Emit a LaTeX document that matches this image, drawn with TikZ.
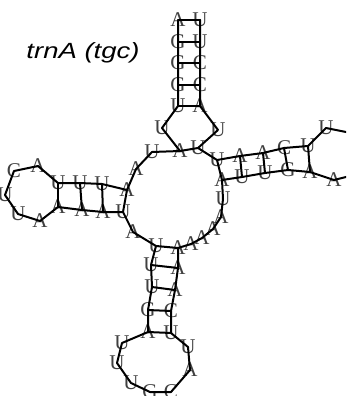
\documentclass[tikz,border=0pt]{standalone}
\usepackage{fontspec}
\setmainfont{Liberation Serif}
\newfontfamily\titlefont{Liberation Sans}
\begin{document}
\begin{tikzpicture}[x=1pt,y=-1pt,
  nt/.style={inner sep=0pt, font=\fontsize{21}{21}\selectfont, text=black!75},
  bb/.style={line width=2pt, line join=round, line cap=round},
  bp/.style={line width=2pt, line cap=round},
  ttl/.style={inner sep=0pt, font=\titlefont\itshape\fontsize{22}{22}\selectfont, xscale=1.25}]
\clip (0,0) rectangle (346,396);
\foreach \n/\x/\y/\l in {
 1/178/20/A, 2/178/42/G, 3/178/63/G, 4/178/85/G, 5/178/106/U,
 6/162/128/U, 7/180/151/A, 8/152/152/U, 9/136/169/A,
 10/127/190/A, 11/102/184/U, 12/80/183/U, 13/58/183/U,
 14/38/166/A, 15/14/171/C, 16/5/195/U, 17/18/214/U, 18/40/221/A,
 19/58/207/A, 20/82/210/A, 21/103/212/A, 22/123/212/U,
 23/133/232/A,
 24/156/246/U, 25/151/265/U, 26/152/287/U, 27/148/310/G, 28/148/332/A,
 29/122/343/U, 30/117/363/U, 31/131/383/U, 32/150/392/G, 33/171/392/C, 34/190/370/A, 35/188/347/U,
 36/171/333/U, 37/171/311/C, 38/175/290/A, 39/178/268/A, 40/178/248/A,
 41/191/244/A, 42/202/238/A, 43/213/229/A, 44/221/217/A, 45/223/199/U,
 46/222/180/A, 47/242/177/U, 48/265/173/U, 49/288/170/G, 50/310/172/A,
 51/334/180/A, 52/358/174/A, 53/366/152/G, 54/356/134/C, 55/326/128/U,
 56/308/146/U, 57/284/148/C, 58/263/153/A, 59/240/156/A, 60/217/160/U,
 61/198/148/U, 62/218/130/U,
 63/200/106/A, 64/200/85/C, 65/200/63/C, 66/200/42/U, 67/200/20/U}
 { \node[nt] (n\n) at (\x,\y) {\l}; }
\draw[bb] (n1.center) \foreach \i in {2,...,67} { -- (n\i.center) };
\foreach \a/\b in {1/67,2/66,3/65,4/64,5/63,7/61,10/22,11/21,12/20,13/19,
  24/40,25/39,26/38,27/37,28/36,46/60,47/59,48/58,49/57,50/56}
  { \draw[bp] (n\a.center) -- (n\b.center); }
\node[ttl] (title) at (83,53) {trnA (tgc)};
\end{tikzpicture}
\end{document}
